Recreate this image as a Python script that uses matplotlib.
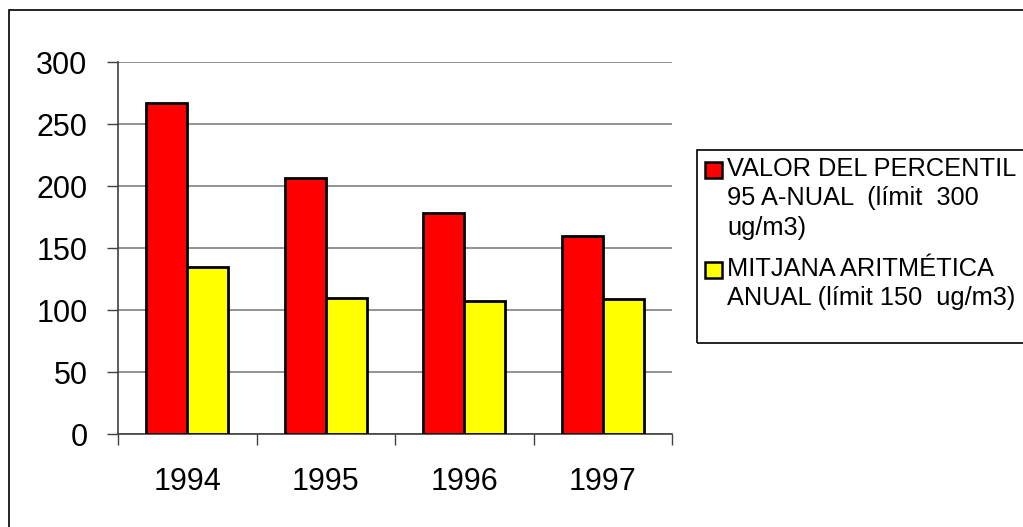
import matplotlib.pyplot as plt
import matplotlib.patches as mpatches
import numpy as np

plt.rcParams['font.family'] = ['Liberation Sans', 'DejaVu Sans']

years = ['1994', '1995', '1996', '1997']
percentil = [267, 207, 178, 160]
mitjana = [135, 110, 107, 109]
labels = ['VALOR DEL PERCENTIL\n95 A-NUAL  (límit  300\nug/m3)',
          'MITJANA ARITMÉTICA\nANUAL (límit 150  ug/m3)']
colors = ['#FF0000', '#FFFF00']

W, H = 1023, 527
fig = plt.figure(figsize=(W / 100, H / 100), dpi=100)
fig.patch.set_facecolor('white')

# marc exterior del grafic
fig.patches.append(mpatches.Rectangle((9 / W, -0.1), 1.2, (H - 10) / H + 0.1,
                                      transform=fig.transFigure, fill=False,
                                      edgecolor='black', lw=1.2))

ax = fig.add_axes([118 / W, (H - 434) / H, (672 - 118) / W, (434 - 62.3) / H])
x = np.arange(len(years))
bw = 0.295
ax.bar(x - bw / 2, percentil, bw, color=colors[0], edgecolor='black', lw=2.0, zorder=3)
ax.bar(x + bw / 2, mitjana, bw, color=colors[1], edgecolor='black', lw=2.0, zorder=3)

ax.set_xlim(-0.5, len(years) - 0.5)
ax.set_ylim(0, 300)
ax.set_yticks(range(0, 301, 50))
ax.yaxis.grid(True, color='#808080', lw=1.2, zorder=0)
ax.set_xticks(x)
ax.set_xticklabels(years)
ax.set_xticks(np.arange(-0.5, len(years)), minor=True)
ax.tick_params(axis='x', which='major', length=0, pad=24, labelsize=22)
ax.tick_params(axis='x', which='minor', length=8, width=1, color='#404040', direction='out')
ax.tick_params(axis='y', length=8, width=1, color='#404040', pad=14, labelsize=22)
for s in ['top', 'right']:
    ax.spines[s].set_visible(False)
for s in ['left', 'bottom']:
    ax.spines[s].set_color('#404040')
    ax.spines[s].set_linewidth(1.2)

# llegenda
fig.patches.append(mpatches.Rectangle((697 / W, (H - 343) / H), 0.4, (343 - 150) / H,
                                      transform=fig.transFigure, fill=False,
                                      edgecolor='black', lw=1.2))
tops = [162, 262]
for lab, col, t in zip(labels, colors, tops):
    fig.patches.append(mpatches.Rectangle((705 / W, (H - t - 16) / H), 17 / W, 16 / H,
                                          transform=fig.transFigure, facecolor=col,
                                          edgecolor='black', lw=1.8))
    fig.text(727 / W, (H - t + 5) / H, lab, fontsize=18.3, va='top', ha='left',
             linespacing=1.28)

fig.savefig('out.png', dpi=100)
